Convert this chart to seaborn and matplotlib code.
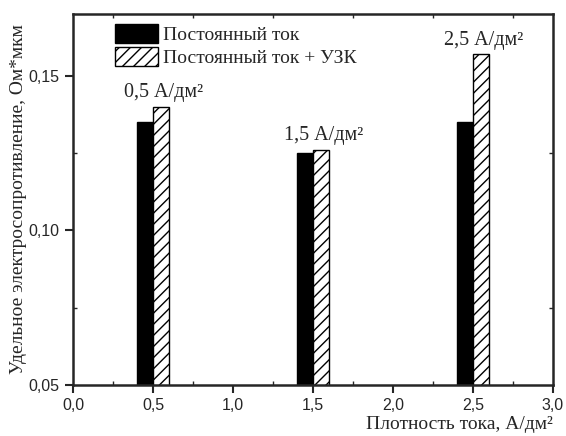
# %%
## LIBRARY
import numpy as np
import pandas as pd
import matplotlib
matplotlib.use("Agg")
import matplotlib.pyplot as plt
import seaborn as sns
from matplotlib.patches import Patch
from matplotlib.ticker import MultipleLocator, FuncFormatter

# %%
## DATA
density = [0.5, 1.5, 2.5]
dc_values = [0.135, 0.125, 0.135]
dc_us_values = [0.140, 0.126, 0.157]
series_names = ["Постоянный ток", "Постоянный ток + УЗК"]
point_labels = ["0,5 А/дм²", "1,5 А/дм²", "2,5 А/дм²"]

df = pd.DataFrame({
    "density": density * 2,
    "rho": dc_values + dc_us_values,
    "mode": [series_names[0]] * 3 + [series_names[1]] * 3,
})

# %%
## PLOT
sns.set_style("ticks")
plt.rcParams["font.family"] = ["Liberation Sans", "DejaVu Sans"]
plt.rcParams["hatch.linewidth"] = 1.0
serif = ["Liberation Serif", "DejaVu Serif"]

fig = plt.figure(figsize=(5.66, 4.36), dpi=100)
ax = fig.add_axes([0.129, 0.117, 0.848, 0.851])

sns.barplot(data=df, x="density", y="rho", hue="mode", native_scale=True,
            width=0.2, palette=["black", "white"], edgecolor="black",
            linewidth=1.0, saturation=1, legend=False, ax=ax)

# hatch the second series
for patch in ax.patches[len(density):]:
    patch.set_hatch("///")

ax.set_xlim(0, 3.0)
ax.set_ylim(0.05, 0.17)
ax.xaxis.set_major_locator(MultipleLocator(0.5))
ax.xaxis.set_minor_locator(MultipleLocator(0.25))
ax.yaxis.set_major_locator(MultipleLocator(0.05))
ax.yaxis.set_minor_locator(MultipleLocator(0.025))
ax.xaxis.set_major_formatter(FuncFormatter(lambda v, p: f"{v:.1f}".replace(".", ",")))
ax.yaxis.set_major_formatter(FuncFormatter(lambda v, p: f"{v:.2f}".replace(".", ",")))

ax.tick_params(which="major", direction="out", length=6, width=1.5,
               labelsize=11.5, top=False, right=False)
ax.tick_params(which="minor", direction="in", length=3, width=1,
               top=True, right=True, bottom=True, left=True)
for lab in ax.get_xticklabels() + ax.get_yticklabels():
    lab.set_family(["Liberation Sans", "DejaVu Sans"])
for s in ax.spines.values():
    s.set_linewidth(1.8)
    s.set_visible(True)

ax.set_xlabel("Плотность тока, А/дм²", family=serif, fontsize=14, loc="right",
              labelpad=2)
ax.set_ylabel("Удельное электросопротивление, Ом*мкм", family=serif, fontsize=14,
              labelpad=1)

# labels over the hatched bars
for x, v, lab in zip(density, dc_us_values, point_labels):
    ax.text(x + 0.065, v + 0.0015, lab, ha="center", va="bottom",
            family=serif, fontsize=14.5)

handles = [Patch(facecolor="black", edgecolor="black", label=series_names[0]),
           Patch(facecolor="white", edgecolor="black", hatch="///", label=series_names[1])]
ax.legend(handles=handles, loc="upper left", bbox_to_anchor=(0.067, 1.0),
          frameon=False, prop={"family": serif, "size": 14},
          handlelength=2.2, handleheight=1.15, handletextpad=0.25, labelspacing=0.15,
          borderaxespad=0.1)

plt.savefig("out.png", dpi=100)
